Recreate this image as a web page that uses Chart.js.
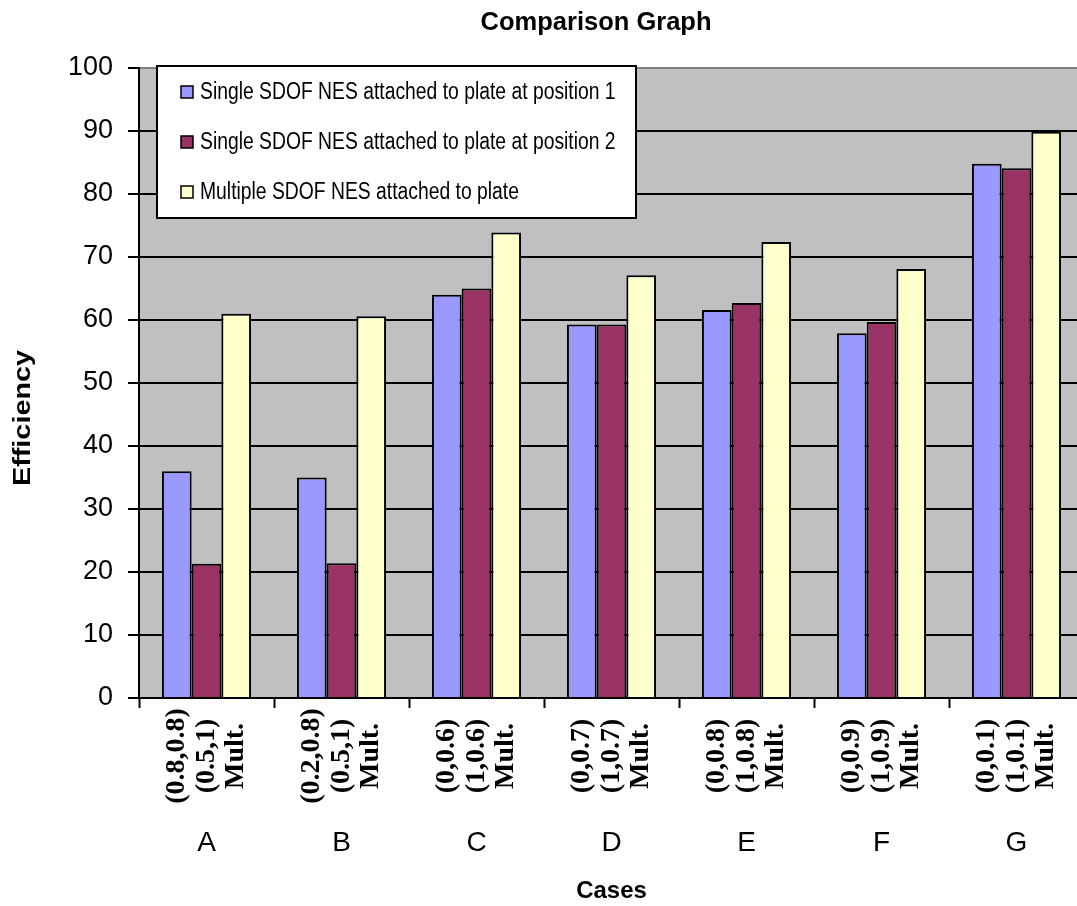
<!DOCTYPE html>
<html>
<head>
<meta charset="utf-8">
<title>Comparison Graph</title>
<script src="https://cdn.jsdelivr.net/npm/chart.js@4.4.1/dist/chart.umd.min.js"></script>
<style>
  html, body { margin: 0; padding: 0; background: #ffffff; overflow: hidden; }
  canvas { display: block; position: absolute; left: 0; top: 0; }
</style>
</head>
<body>
<canvas id="chart" width="1090" height="906"></canvas>
<script>
// Cases and their per-configuration efficiencies
const cases = ['A', 'B', 'C', 'D', 'E', 'F', 'G'];
const position1Labels = ['(0.8,0.8)', '(0.2,0.8)', '(0,0.6)', '(0,0.7)', '(0,0.8)', '(0,0.9)', '(0,0.1)'];
const position2Labels = ['(0.5,1)', '(0.5,1)', '(1,0.6)', '(1,0.7)', '(1,0.8)', '(1,0.9)', '(1,0.1)'];
const multipleLabels = ['Mult.', 'Mult.', 'Mult.', 'Mult.', 'Mult.', 'Mult.', 'Mult.'];

const singlePosition1 = [36.0, 35.0, 64.0, 59.3, 61.6, 57.9, 84.8];
const singlePosition2 = [21.3, 21.4, 65.0, 59.3, 62.7, 59.7, 84.1];
const multipleNes = [61.0, 60.6, 73.9, 67.1, 72.4, 68.1, 89.9];

const yTicks = [0, 10, 20, 30, 40, 50, 60, 70, 80, 90, 100];

const SANS = '"Liberation Sans", Arial, Helvetica, sans-serif';
const SERIF = '"Liberation Serif", "Times New Roman", Times, serif';

// Gray plot background
const plotBackground = {
  id: 'plotBackground',
  beforeDraw(chart) {
    const { ctx, chartArea: a } = chart;
    ctx.save();
    ctx.fillStyle = '#c0c0c0';
    ctx.fillRect(a.left, a.top, a.right - a.left, a.bottom - a.top);
    ctx.restore();
  }
};

// Rotated per-bar configuration labels under each bar
const barSubLabels = {
  id: 'barSubLabels',
  afterDraw(chart) {
    const { ctx } = chart;
    const sets = [position1Labels, position2Labels, multipleLabels];
    ctx.save();
    ctx.font = 'bold 28px ' + SERIF;
    ctx.fillStyle = '#000';
    ctx.textAlign = 'center';
    ctx.textBaseline = 'middle';
    sets.forEach((labels, di) => {
      const meta = chart.getDatasetMeta(di);
      meta.data.forEach((bar, j) => {
        ctx.save();
        ctx.translate(bar.x, 756);
        ctx.rotate(-Math.PI / 2);
        ctx.fillText(labels[j], 0, 0);
        ctx.restore();
      });
    });
    ctx.restore();
  }
};

// Chart title and vertical axis title
const titles = {
  id: 'titles',
  afterDraw(chart) {
    const { ctx } = chart;
    ctx.save();
    ctx.fillStyle = '#000';
    ctx.textAlign = 'center';
    ctx.textBaseline = 'middle';
    ctx.font = 'bold 25.5px ' + SANS;
    ctx.fillText('Comparison Graph', 596, 23);
    ctx.translate(23, 418);
    ctx.rotate(-Math.PI / 2);
    ctx.scale(1.2, 1);
    ctx.font = 'bold 24px ' + SANS;
    ctx.fillText('Efficiency', 0, 0);
    ctx.restore();
  }
};

// Boxed legend sitting inside the plot area; its text is set narrow
const boxedLegend = {
  id: 'boxedLegend',
  afterDatasetsDraw(chart) {
    const { ctx } = chart;
    const box = { x: 157, y: 66, w: 479, h: 152 };
    ctx.save();
    ctx.fillStyle = '#ffffff';
    ctx.fillRect(box.x, box.y, box.w, box.h);
    ctx.lineWidth = 2;
    ctx.strokeStyle = '#000';
    ctx.strokeRect(box.x, box.y, box.w, box.h);
    ctx.font = '23px ' + SANS;
    ctx.textAlign = 'left';
    ctx.textBaseline = 'middle';
    chart.data.datasets.forEach((ds, i) => {
      const cy = 92 + i * 50;
      ctx.fillStyle = ds.backgroundColor;
      ctx.fillRect(181, cy - 6, 12, 12);
      ctx.lineWidth = 1.5;
      ctx.strokeStyle = '#000';
      ctx.strokeRect(181, cy - 6, 12, 12);
      ctx.fillStyle = '#000';
      ctx.save();
      ctx.translate(200, cy + 1);
      ctx.scale(0.84, 1);
      ctx.fillText(ds.label, 0, 0);
      ctx.restore();
    });
    ctx.restore();
  }
};

new Chart(document.getElementById('chart'), {
  type: 'bar',
  data: {
    labels: cases,
    datasets: [
      {
        label: 'Single SDOF NES attached to plate at position 1',
        data: singlePosition1,
        backgroundColor: '#9999ff',
        borderColor: '#000000',
        borderWidth: 2
      },
      {
        label: 'Single SDOF NES attached to plate at position 2',
        data: singlePosition2,
        backgroundColor: '#993366',
        borderColor: '#000000',
        borderWidth: 2
      },
      {
        label: 'Multiple SDOF NES attached to plate',
        data: multipleNes,
        backgroundColor: '#ffffcc',
        borderColor: '#000000',
        borderWidth: 2
      }
    ]
  },
  options: {
    responsive: false,
    animation: false,
    devicePixelRatio: 1,
    categoryPercentage: 0.66,
    barPercentage: 1.0,
    layout: { padding: { top: 68, right: 6, bottom: 0, left: 0 } },
    plugins: {
      legend: { display: false },
      title: { display: false },
      tooltip: { enabled: false }
    },
    scales: {
      x: {
        grid: {
          offset: true,
          drawOnChartArea: false,
          drawTicks: true,
          tickLength: 10,
          tickColor: '#000',
          tickWidth: 2
        },
        border: { display: true, color: '#000', width: 2 },
        ticks: {
          color: '#000',
          font: { family: SANS, size: 28 },
          padding: 118,
          maxRotation: 0,
          minRotation: 0
        },
        title: {
          display: true,
          text: 'Cases',
          color: '#000',
          font: { family: SANS, size: 24, weight: 'bold' },
          padding: { top: 0, bottom: 0 }
        },
        afterFit(scale) {
          scale.height = 208;
          scale.paddingLeft = 0;
          scale.paddingRight = 0;
        }
      },
      y: {
        min: 0,
        max: 100,
        afterBuildTicks(scale) { scale.ticks = yTicks.map(v => ({ value: v })); },
        grid: {
          color: ctx => (ctx.tick && ctx.tick.value === 100 ? '#808080' : '#000'),
          lineWidth: 2,
          drawTicks: true,
          tickLength: 11,
          tickColor: '#000',
          tickWidth: 2
        },
        border: { display: true, color: '#000', width: 2 },
        ticks: {
          color: '#000',
          font: { family: SANS, size: 27 },
          padding: 15
        },
        afterFit(scale) { scale.width = 139; }
      }
    }
  },
  plugins: [plotBackground, boxedLegend, barSubLabels, titles]
});
</script>
</body>
</html>
